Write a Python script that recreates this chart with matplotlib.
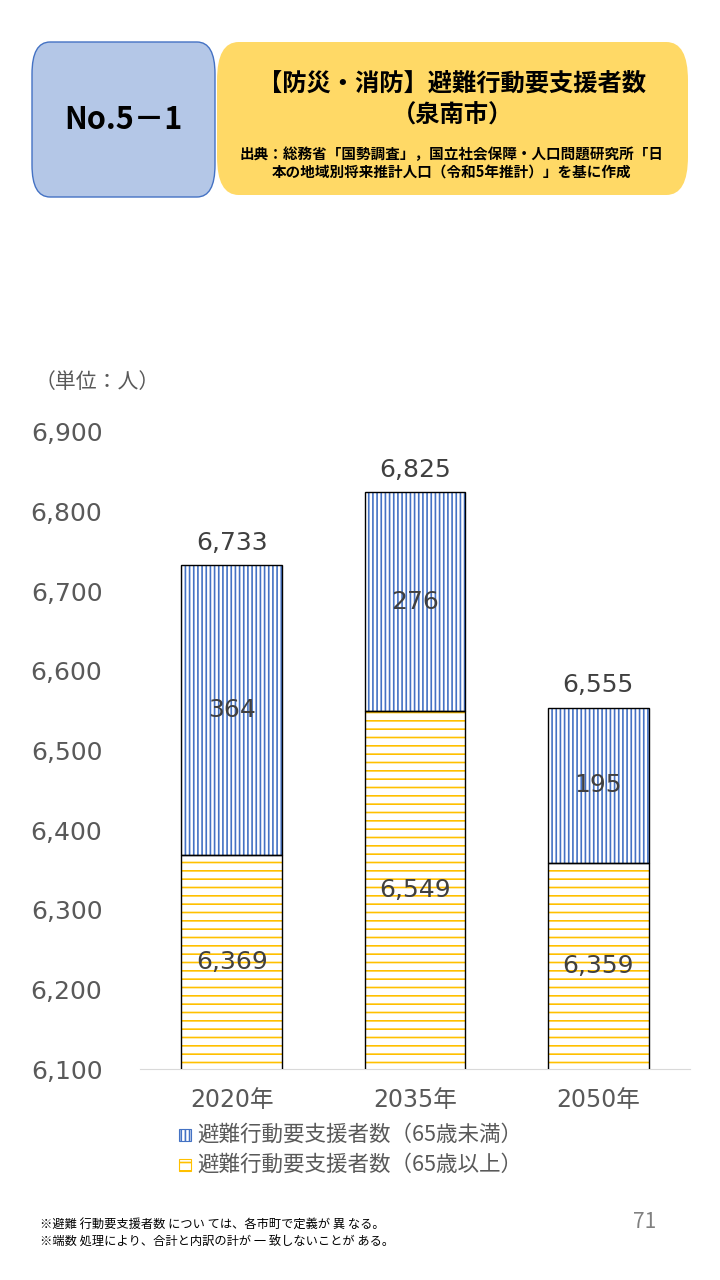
import matplotlib.pyplot as plt
from matplotlib.patches import FancyBboxPatch

plt.rcParams["font.family"] = ["Noto Sans CJK JP", "DejaVu Sans"]
plt.rcParams["hatch.linewidth"] = 1.2

years = ["2020年", "2035年", "2050年"]
over65 = [6369, 6549, 6359]
under65 = [364, 276, 195]
totals = [6733, 6825, 6555]
yticks = [6100, 6200, 6300, 6400, 6500, 6600, 6700, 6800, 6900]

BLUE = "#4472C4"
GOLD = "#FFC000"
INK = "#404040"
GRAY = "#595959"
NUM = ["DejaVu Sans", "Noto Sans CJK JP"]

fig = plt.figure(figsize=(7.2, 12.8), dpi=100)

# header boxes
fig.patches.append(FancyBboxPatch((32 / 720, 1 - 197 / 1280), 183 / 720, 155 / 1280,
                                  boxstyle="round,pad=0,rounding_size=0.025",
                                  transform=fig.transFigure, fc="#B4C7E7", ec=BLUE, lw=1))
fig.patches.append(FancyBboxPatch((217 / 720, 1 - 195 / 1280), 471 / 720, 153 / 1280,
                                  boxstyle="round,pad=0,rounding_size=0.03",
                                  transform=fig.transFigure, fc="#FFD966", ec="none"))
fig.text(123 / 720, 1 - 120 / 1280, "No.5－1", fontsize=22, weight="bold", ha="center", va="center", color="black")
fig.text(452 / 720, 1 - 84 / 1280, "【防災・消防】避難行動要支援者数", fontsize=17.5, weight="bold", ha="center", va="center")
fig.text(452 / 720, 1 - 116 / 1280, "（泉南市）", fontsize=17.5, weight="bold", ha="center", va="center")
fig.text(452 / 720, 1 - 163 / 1280, "出典：総務省「国勢調査」，国立社会保障・人口問題研究所「日\n本の地域別将来推計人口（令和5年推計）」を基に作成",
         fontsize=10.5, weight="bold", ha="center", va="center", linespacing=1.1)

fig.text(35 / 720, 1 - 382 / 1280, "（単位：人）", fontsize=15, color=GRAY, ha="left", va="center")

ax = fig.add_axes([140 / 720, 1 - 1069 / 1280, 550 / 720, 637 / 1280])
x = range(len(years))
ax.bar(x, over65, width=0.55, color="white", edgecolor=GOLD, hatch="--", linewidth=0, zorder=2)
ax.bar(x, under65, bottom=over65, width=0.55, color="white", edgecolor=BLUE, hatch="||||", linewidth=0, zorder=2)
# black outlines on top
ax.bar(x, over65, width=0.55, fill=False, edgecolor="black", linewidth=1, zorder=3)
ax.bar(x, under65, bottom=over65, width=0.55, fill=False, edgecolor="black", linewidth=1, zorder=3)

for i in x:
    ax.text(i, (6100 + over65[i]) / 2, f"{over65[i]:,}", ha="center", va="center", fontsize=18, color=INK,
            family=NUM, zorder=4)
    ax.text(i, over65[i] + under65[i] / 2, f"{under65[i]:,}", ha="center", va="center", fontsize=18, color=INK,
            family=NUM, zorder=4)
    ax.text(i, totals[i] + 12, f"{totals[i]:,}", ha="center", va="bottom", fontsize=18, color=INK, family=NUM)

ax.set_xlim(-0.5, 2.5)
ax.set_ylim(6100, 6900)
ax.set_yticks(yticks)
ax.set_yticklabels([f"{v:,}" for v in yticks], fontsize=18, color=GRAY, family=NUM)
ax.set_xticks(list(x))
ax.set_xticklabels(years, fontsize=17, color=GRAY, family=NUM)
ax.tick_params(length=0, pad=14)
ax.tick_params(axis="y", pad=27)
for s in ["top", "right", "left"]:
    ax.spines[s].set_visible(False)
ax.spines["bottom"].set_color("#D9D9D9")

# legend
lx, ly = 185 / 720, 1 - 1135 / 1280
for j, (lab, hatch, hc) in enumerate([("避難行動要支援者数（65歳未満）", "||||", BLUE),
                                      ("避難行動要支援者数（65歳以上）", "--", GOLD)]):
    yy = ly - j * 30 / 1280
    fig.patches.append(plt.Rectangle((lx - 6 / 720, yy - 6 / 1280), 12 / 720, 12 / 1280, transform=fig.transFigure,
                                     fc="white", ec=hc, hatch=hatch, lw=0.8))
    fig.text(lx + 12 / 720, yy, lab, fontsize=15.5, color=GRAY, ha="left", va="center")

fig.text(40 / 720, 1 - 1224 / 1280, "※避難 行動要支援者数 につい ては、各市町で定義が 異 なる。", fontsize=8.8, ha="left", va="center")
fig.text(40 / 720, 1 - 1242 / 1280, "※端数 処理により、合計と内訳の計が 一 致しないことが ある。", fontsize=8.8, ha="left", va="center")
fig.text(645 / 720, 1 - 1222 / 1280, "71", fontsize=15, color="#808080", ha="center", va="center")

fig.savefig("out.png", dpi=100, facecolor="white")
